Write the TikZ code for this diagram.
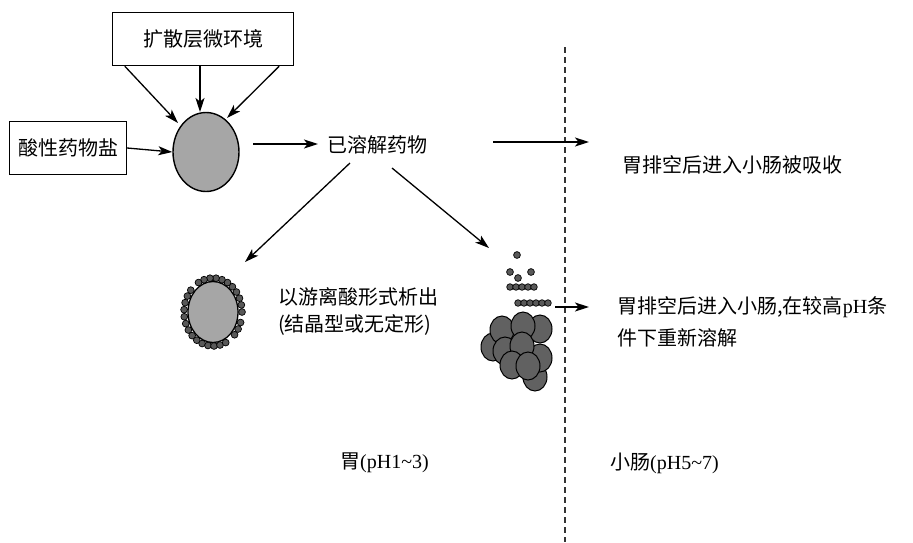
\documentclass[tikz,border=0pt]{standalone}
\usepackage{fontspec}
\setmainfont{Liberation Serif}
\newfontfamily\cjk{Noto Sans CJK SC}
\usetikzlibrary{arrows.meta,shapes.geometric,calc}
\begin{document}
\begin{tikzpicture}[x=1pt,y=-1pt,
  lbl/.style={font=\cjk\fontsize{20}{24}\selectfont, inner sep=0pt, anchor=west},
  boxnode/.style={draw, line width=1.4pt, font=\cjk\fontsize{20}{24}\selectfont, inner sep=0pt},
  arr/.style={line width=1.3pt, -{Stealth[length=14pt,width=9pt,inset=3.5pt]}},
  dot/.style={draw=black, fill=black!65, line width=0.7pt},
  blob/.style={draw=black, fill=black!62, line width=1pt}]
\useasboundingbox (0,0) rectangle (913,542);

% boxes
\node[boxnode, minimum width=181pt, minimum height=53pt] (top) at (203,39) {扩散层微环境};
\node[boxnode, minimum width=117pt, minimum height=53pt] (salt) at (68,148) {酸性药物盐};

% core particle
\node[ellipse, draw, line width=1.4pt, fill=black!35, minimum width=66pt, minimum height=79pt, inner sep=0pt] (core) at (206,152) {};

% dissolved drug
\node[lbl] (diss) at (327,145) {已溶解药物};

% arrows into core
\coordinate (t1) at ($(top.south west)+(13,0)$);
\coordinate (t2) at ($(top.south)+(-3,0)$);
\coordinate (t3) at ($(top.south east)+(-15,0)$);
\coordinate (h1) at (178,123);
\coordinate (h2) at (200,112);
\coordinate (h3) at (227,118);
\draw[arr] (t1) -- (h1);
\draw[arr] (t2) -- (h2);
\draw[arr] (t3) -- (h3);
\draw[arr] (salt.east) -- (core.west);

\coordinate (c1) at (253,144);
\coordinate (c2) at (318,144);
\draw[arr] (c1) -- (c2);

% dashed boundary
\coordinate (dtop) at (565,47);
\coordinate (dbot) at (565,542);
\draw[line width=1.2pt, dash pattern=on 6pt off 4pt, black!80] (dtop) -- (dbot);

% right texts
\node[lbl] (abs) at (622,165) {胃排空后进入小肠被吸收};
\coordinate (a1) at (493,142);
\coordinate (a2) at (589,142);
\draw[arr] (a1) -- (a2);

% diagonal arrows
\coordinate (d0) at (350,163);
\coordinate (d1) at (245,262);
\coordinate (e0) at (392,168);
\coordinate (e1) at (489,248);
\draw[arr] (d0) -- (d1);
\draw[arr] (e0) -- (e1);

% coated sphere
\node[ellipse, draw, line width=1.3pt, fill=black!35, minimum width=50pt, minimum height=61pt, inner sep=0pt] (coat) at (213,312) {};
\foreach \a in {0,12,24,36,48,60,72,84,96,108,120,140,152,164,176,188,200,212,224,236,248,260,272,284,296,318,330,342}
  \fill[dot] ($(coat.center)+({29*cos(\a)},{-34*sin(\a)})$) circle (3.4pt);

\node[lbl] (prec) at (278,297) {以游离酸形式析出};
\node[lbl] (prec2) at (278,325) {(结晶型或无定形)};

% precipitate cluster
\node[inner sep=0pt, minimum size=1pt] (clu) at (520,350) {};
\foreach \x/\y in {517/255,510/272,531/272,518/278}
  \fill[dot] (\x,\y) circle (3.4pt);
\foreach \x in {510,516,522,528,534}
  \fill[dot] (\x,287) circle (3.3pt);
\foreach \x in {518,524,530,536,542,548}
  \fill[dot] (\x,303) circle (3.3pt);
\foreach \x/\y in {535/377,493/347,540/358,502/330,540/329,505/351,523/326,522/346,512/365,528/366}
  \fill[blob] (\x,\y) ellipse (12pt and 14pt);

\coordinate (p1) at (555,307);
\coordinate (p2) at (589,307);
\draw[arr] (p1) -- (p2);
\node[lbl] (redis) at (617,307) {\cjk 胃排空后进入小肠,在较高\rmfamily pH\cjk 条};
\node[lbl] (redis2) at (617,338) {件下重新溶解};

% bottom labels
\node[lbl] (stom) at (340,463) {\cjk 胃\rmfamily(pH1\textasciitilde3)};
\node[lbl] (intes) at (610,463) {\cjk 小肠\rmfamily(pH5\textasciitilde7)};
\end{tikzpicture}
\end{document}
